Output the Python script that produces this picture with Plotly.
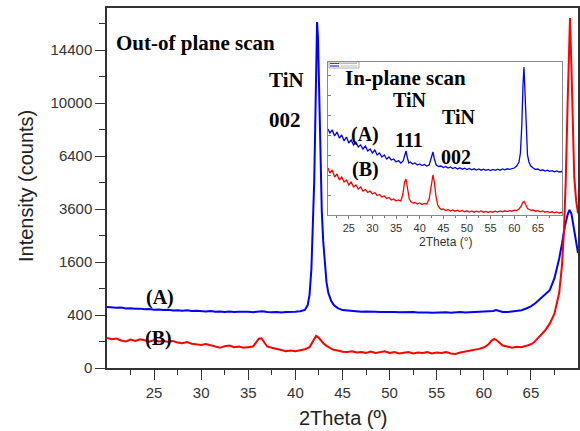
import numpy as np
import plotly.graph_objects as go

# ---------------- data ----------------
# Main plot: out-of-plane scan, counts
a_x = [20.0, 20.5, 21.0, 21.5, 22.0, 22.5, 23.0, 23.5, 24.0, 24.5, 25.0, 25.5, 26.0, 26.5, 27.0, 27.5,
       28.0, 28.5, 29.0, 29.5, 30.0, 30.5, 31.0, 31.5, 32.0, 32.5, 33.0, 33.5, 34.0, 34.5, 35.0, 35.5,
       36.0, 36.5, 37.0, 37.5, 38.0, 38.5, 39.0, 39.5, 40.0, 40.5, 41.0, 41.3, 41.5, 41.7, 41.85, 42.0,
       42.1, 42.2, 42.3, 42.4, 42.5, 42.6, 42.7, 42.8, 42.95, 43.1, 43.3, 43.5, 43.8, 44.1, 44.5, 45.0,
       45.5, 46.0, 46.5, 47.0, 47.5, 48.0, 48.5, 49.0, 49.5, 50.0, 50.5, 51.0, 51.5, 52.0, 52.5, 53.0,
       53.5, 54.0, 54.5, 55.0, 55.5, 56.0, 56.5, 57.0, 57.5, 58.0, 58.5, 59.0, 59.5, 60.0, 60.5, 61.0,
       61.3, 61.6, 62.0, 62.5, 63.0, 63.5, 64.0, 64.5, 65.0, 65.5, 66.0, 66.5, 67.0, 67.5, 68.0, 68.3,
       68.6, 68.9, 69.1, 69.3, 69.5, 69.7, 70.0]
a_y = [530, 522, 515, 520, 505, 510, 498, 502, 490, 495, 482, 488, 478, 484, 472, 476,
       468, 474, 462, 468, 460, 455, 462, 450, 456, 448, 455, 446, 452, 445, 450, 444,
       450, 460, 448, 442, 448, 440, 446, 445, 450, 458, 480, 560, 760, 1400, 2600, 5000,
       8200, 13000, 17050, 15500, 11500, 7600, 5000, 3500, 2300, 1600, 1050, 800, 640, 560, 510, 478,
       470, 462, 458, 452, 456, 448, 452, 446, 450, 444, 448, 442, 446, 440, 445, 438,
       444, 440, 436, 442, 438, 444, 436, 440, 446, 438, 442, 440, 444, 442, 448, 462,
       478, 460, 448, 446, 452, 462, 475, 505, 540, 600, 680, 760, 860, 1150, 1700, 2200,
       2850, 3350, 3560, 3400, 2900, 2450, 1880]

b_x = [20.0, 20.5, 21.0, 21.5, 22.0, 22.5, 23.0, 23.5, 24.0, 24.5, 25.0, 25.5, 26.0, 26.5, 27.0, 27.5,
       28.0, 28.5, 29.0, 29.5, 30.0, 30.5, 31.0, 31.5, 32.0, 32.5, 33.0, 33.5, 34.0, 34.5, 35.0, 35.5,
       35.8, 36.1, 36.4, 36.7, 37.0, 37.5, 38.0, 38.5, 39.0, 39.5, 40.0, 40.5, 41.0, 41.5, 41.8, 42.0,
       42.2, 42.4, 42.7, 43.0, 43.3, 43.7, 44.0, 44.5, 45.0, 45.5, 46.0, 46.5, 47.0, 47.5, 48.0, 48.5,
       49.0, 49.5, 50.0, 50.5, 51.0, 51.5, 52.0, 52.5, 53.0, 53.5, 54.0, 54.5, 55.0, 55.5, 56.0, 56.5,
       57.0, 57.5, 58.0, 58.5, 59.0, 59.5, 60.0, 60.5, 60.8, 61.1, 61.4, 61.7, 62.0, 62.5, 63.0, 63.5,
       64.0, 64.5, 65.0, 65.3, 65.6, 66.0, 66.5, 67.0, 67.5, 68.0, 68.3, 68.5, 68.7, 68.9, 69.05, 69.15,
       69.3, 69.45, 69.6, 69.8, 70.0]
b_y = [128, 118, 124, 108, 100, 115, 104, 118, 110, 98, 112, 100, 106, 96, 104, 92,
       88, 96, 84, 80, 76, 82, 72, 66, 58, 68, 72, 62, 66, 58, 60, 66,
       90, 122, 126, 96, 66, 58, 50, 46, 40, 44, 40, 46, 50, 62, 90, 120,
       146, 136, 108, 86, 70, 56, 48, 44, 38, 36, 40, 34, 36, 32, 38, 32,
       36, 40, 32, 36, 30, 34, 36, 30, 34, 32, 36, 30, 34, 32, 36, 30,
       28, 34, 38, 42, 46, 52, 60, 80, 105, 120, 108, 88, 72, 66, 58, 64,
       62, 70, 80, 92, 115, 150, 200, 280, 420, 800, 1500, 2600, 5000, 10000, 15500, 17450,
       13000, 8000, 5200, 4000, 3400]

y_tick_counts = [0, 400, 1600, 3600, 6400, 10000, 14400]
x_tick_vals = [25, 30, 35, 40, 45, 50, 55, 60, 65]

# Inset: in-plane scan (arbitrary counts)
ia_x = [20.6, 21.0, 21.5, 22.0, 22.5, 23.0, 23.5, 24.0, 24.5, 25.0, 25.5, 26.0, 26.5, 27.0, 27.5, 28.0,
        28.5, 29.0, 29.5, 30.0, 30.5, 31.0, 31.5, 32.0, 32.5, 33.0, 33.5, 34.0, 34.5, 35.0, 35.5, 36.0,
        36.5, 36.8, 37.1, 37.4, 37.7, 38.0, 38.5, 39.0, 39.5, 40.0, 40.5, 41.0, 41.5, 42.0, 42.4, 42.8,
        43.1, 43.5, 44.0, 44.5, 45.0, 45.5, 46.0, 46.5, 47.0, 47.5, 48.0, 48.5, 49.0, 49.5, 50.0, 50.5,
        51.0, 51.5, 52.0, 52.5, 53.0, 53.5, 54.0, 54.5, 55.0, 55.5, 56.0, 56.5, 57.0, 57.5, 58.0, 58.5,
        59.0, 59.5, 60.0, 60.5, 61.0, 61.3, 61.6, 61.85, 62.05, 62.25, 62.5, 62.8, 63.1, 63.5, 64.0, 64.5,
        65.0, 65.5, 66.0, 66.5, 67.0, 67.5, 68.0, 68.5, 69.0, 69.5, 70.1]
ia_y = [860, 820, 850, 790, 830, 770, 800, 740, 780, 720, 750, 700, 730, 680, 700, 660,
        690, 640, 660, 620, 650, 600, 620, 580, 600, 560, 580, 550, 560, 530, 545, 520,
        540, 600, 640, 570, 520, 530, 510, 520, 500, 510, 495, 505, 490, 500, 560, 630,
        560, 500, 485, 490, 475, 485, 470, 480, 465, 475, 460, 472, 458, 468, 455, 465,
        452, 462, 450, 460, 448, 458, 446, 455, 444, 456, 446, 458, 448, 460, 452, 462,
        456, 466, 470, 490, 530, 620, 900, 1300, 1480, 1250, 850, 600, 530, 490, 470, 455,
        460, 445, 452, 440, 448, 436, 444, 432, 440, 430, 435]

ib_x = [20.6, 21.0, 21.5, 22.0, 22.5, 23.0, 23.5, 24.0, 24.5, 25.0, 25.5, 26.0, 26.5, 27.0, 27.5, 28.0,
        28.5, 29.0, 29.5, 30.0, 30.5, 31.0, 31.5, 32.0, 32.5, 33.0, 33.5, 34.0, 34.5, 35.0, 35.5, 36.0,
        36.4, 36.8, 37.1, 37.4, 37.8, 38.2, 38.6, 39.0, 39.5, 40.0, 40.5, 41.0, 41.5, 42.0, 42.4, 42.8,
        43.1, 43.4, 43.8, 44.2, 44.6, 45.0, 45.5, 46.0, 46.5, 47.0, 47.5, 48.0, 48.5, 49.0, 49.5, 50.0,
        50.5, 51.0, 51.5, 52.0, 52.5, 53.0, 53.5, 54.0, 54.5, 55.0, 55.5, 56.0, 56.5, 57.0, 57.5, 58.0,
        58.5, 59.0, 59.5, 60.0, 60.5, 61.0, 61.5, 61.8, 62.1, 62.4, 62.8, 63.2, 63.6, 64.0, 64.5, 65.0,
        65.5, 66.0, 66.5, 67.0, 67.5, 68.0, 68.5, 69.0, 69.5, 70.1]
ib_y = [470, 420, 450, 380, 410, 350, 380, 330, 350, 300, 330, 280, 300, 260, 280, 240,
        255, 225, 240, 210, 225, 195, 205, 180, 190, 165, 175, 150, 160, 140, 150, 140,
        200, 330, 360, 260, 160, 130, 120, 125, 110, 120, 105, 115, 110, 160, 280, 400,
        330, 200, 100, 70, 55, 60, 45, 55, 40, 50, 38, 48, 35, 45, 32, 42,
        30, 40, 28, 38, 30, 40, 28, 36, 26, 36, 28, 38, 30, 40, 32, 42,
        34, 44, 38, 48, 45, 60, 90, 125, 135, 100, 65, 55, 45, 50, 38, 44,
        32, 40, 28, 36, 25, 32, 22, 30, 20, 28]

# ---------------- layout helpers ----------------
W, H = 580, 431
L, R, T, B = 107, 578, 8, 368


def px(x):
    return (x - L) / (R - L)


def py(y):
    return (B - y) / (B - T)


BLUE = "#0000FF"
RED = "#FF0000"
SANS = "Liberation Sans, Arial, sans-serif"
SERIF = "Liberation Serif, Times New Roman, serif"

fig = go.Figure()
fig.add_trace(go.Scatter(x=a_x, y=np.sqrt(a_y), mode="lines", line=dict(color=BLUE, width=2),
                         xaxis="x", yaxis="y", showlegend=False))
fig.add_trace(go.Scatter(x=b_x, y=np.sqrt(b_y), mode="lines", line=dict(color=RED, width=2),
                         xaxis="x", yaxis="y", showlegend=False))
fig.add_trace(go.Scatter(x=ia_x, y=ia_y, mode="lines", line=dict(color=BLUE, width=1.3),
                         xaxis="x2", yaxis="y2", showlegend=False))
fig.add_trace(go.Scatter(x=ib_x, y=ib_y, mode="lines", line=dict(color=RED, width=1.3),
                         xaxis="x2", yaxis="y2", showlegend=False))

sq = [float(np.sqrt(v)) for v in y_tick_counts]
axis_common = dict(showgrid=False, zeroline=False, showline=True, mirror=True,
                   linecolor="#333333", linewidth=1.5, ticks="outside", tickcolor="#333333",
                   automargin=False,
                   tickfont=dict(family=SANS, size=15, color="#333333"))

fig.update_layout(
    width=W, height=H,
    margin=dict(l=L, r=W - R, t=T, b=H - B, autoexpand=False),
    paper_bgcolor="white", plot_bgcolor="white",
    xaxis=dict(domain=[0, 1], range=[20, 70], tickmode="array", tickvals=x_tick_vals,
               ticklen=10, tickwidth=1.3,
               minor=dict(tickmode="array", tickvals=[22.5 + 5 * i for i in range(10)],
                          ticklen=5, tickwidth=1.3, ticks="outside", tickcolor="#333333"),
               **axis_common),
    yaxis=dict(domain=[0, 1], range=[0, (B - T) / 2.65], tickmode="array", tickvals=sq,
               ticktext=[str(v) for v in y_tick_counts], ticklen=10, tickwidth=1.3,
               minor=dict(tickmode="array", tickvals=[10 + 20 * i for i in range(7)],
                          ticklen=6, tickwidth=1.3, ticks="outside", tickcolor="#333333"),
               **axis_common),
    xaxis2=dict(domain=[px(328), px(562)], anchor="y2", range=[20.6, 70.1], tickmode="array",
                tickvals=x_tick_vals, ticks="outside", ticklen=3, tickcolor="#777777",
                minor=dict(tickmode="array", tickvals=[22.5 + 5 * i for i in range(10)],
                           ticklen=2, ticks="outside", tickcolor="#777777"),
                showgrid=False, zeroline=False, showline=True, mirror=True,
                linecolor="#888888", linewidth=1, automargin=False,
                tickfont=dict(family=SANS, size=11, color="#333333")),
    yaxis2=dict(domain=[py(215), py(62)], anchor="x2", range=[0, 1530], tickmode="array",
                tickvals=[200, 400, 600, 800, 1000, 1200, 1400], ticks="inside", ticklen=3,
                tickcolor="#777777", showticklabels=False, showgrid=False, zeroline=False,
                showline=True, mirror=True, linecolor="#888888", linewidth=1, automargin=False),
)


def ann(text, x, y, size, family=SERIF, bold=True, color="black", angle=0):
    fig.add_annotation(text=("<b>%s</b>" % text) if bold else text, x=px(x), y=py(y),
                       xref="paper", yref="paper", showarrow=False, xanchor="center",
                       yanchor="middle", textangle=angle,
                       font=dict(family=family, size=size, color=color))


# axis titles
ann("2Theta (º)", 343, 418, 20, family=SANS, bold=False, color="#222222")
ann("Intensity (counts)", 26, 186, 20, family=SANS, bold=False, color="#222222", angle=-90)
ann("2Theta (°)", 445, 242, 12, family=SANS, bold=False, color="#333333")

# main labels
ann("Out-of plane scan", 195, 43, 21)
ann("TiN", 286, 80, 21)
ann("002", 285, 120, 21)
ann("(A)", 160, 297, 20)
ann("(B)", 158, 338, 20)

# inset labels
ann("In-plane scan", 405, 78, 21)
ann("TiN", 410, 100, 20)
ann("111", 409, 140, 20)
ann("TiN", 459, 117, 20)
ann("002", 456, 157, 20)
ann("(A)", 365, 134, 20)
ann("(B)", 365, 170, 20)

# tiny legend box of inset
fig.add_shape(type="rect", xref="paper", yref="paper", x0=px(329), x1=px(359), y0=py(68), y1=py(62),
              line=dict(color="#999999", width=0.8), fillcolor="white")
fig.add_shape(type="line", xref="paper", yref="paper", x0=px(330), x1=px(339), y0=py(63.5), y1=py(63.5),
              line=dict(color=RED, width=1))
fig.add_shape(type="line", xref="paper", yref="paper", x0=px(330), x1=px(339), y0=py(66), y1=py(66),
              line=dict(color=BLUE, width=1))
fig.add_shape(type="line", xref="paper", yref="paper", x0=px(341), x1=px(357), y0=py(63.5), y1=py(63.5),
              line=dict(color="#bbbbbb", width=1))
fig.add_shape(type="line", xref="paper", yref="paper", x0=px(341), x1=px(357), y0=py(66), y1=py(66),
              line=dict(color="#bbbbbb", width=1))

fig.write_html("out.html", config={"displayModeBar": False},
               post_script="document.body.style.margin='0';document.body.style.overflow='hidden';")
